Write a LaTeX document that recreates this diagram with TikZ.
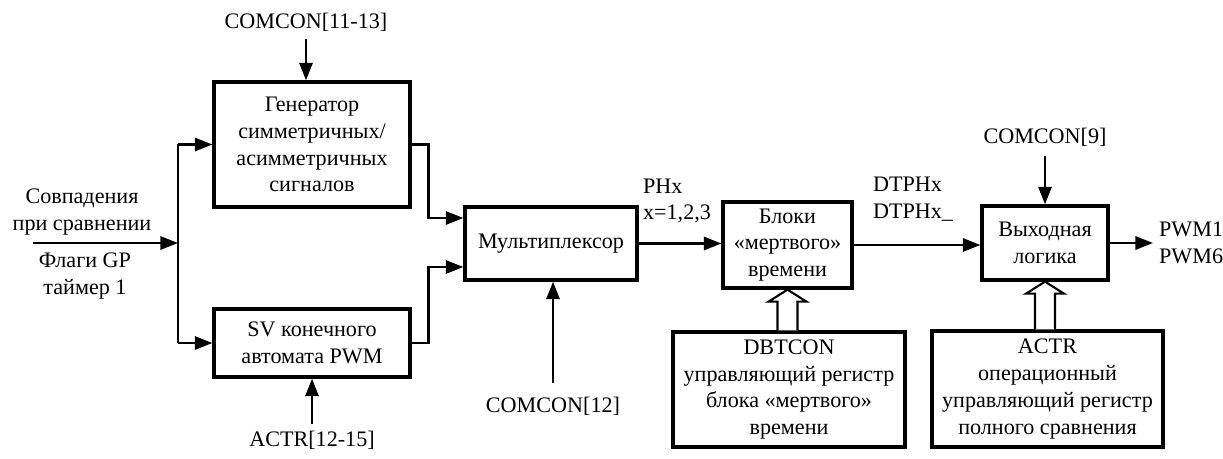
\documentclass[tikz,border=0pt]{standalone}
\usepackage{fontspec}
\setmainfont{Liberation Serif}
\usetikzlibrary{calc,positioning,arrows.meta}

\tikzset{
  blk/.style={draw, line width=1.9pt, align=center, inner sep=2pt},
  lbl/.style={align=center, inner sep=1pt},
  sig/.style={line width=1.5pt, -{Triangle[length=10pt,width=7.5pt]}},
  wire/.style={line width=1.5pt},
  hollow/.style={line width=1.2pt, fill=white},
}

\begin{document}
\begin{tikzpicture}[x=0.02cm, y=-0.02cm, font=\fontsize{12.6}{15.3}\selectfont]
\useasboundingbox (0,0) rectangle (1223,459);

% blocks
\node[blk, minimum width=3.92cm, minimum height=2.5cm] (gen) at (312,144.5) {Генератор\\симметричных/\\асимметричных\\сигналов};
\node[blk, minimum width=3.92cm, minimum height=1.36cm] (sv) at (312,343) {SV конечного\\автомата PWM};
\node[blk, minimum width=3.44cm, minimum height=1.46cm] (mux) at (551,243.5) {Мультиплексор};
\node[blk, minimum width=2.58cm, minimum height=1.72cm] (dead) at (787.5,245) {Блоки\\«мертвого»\\времени};
\node[blk, minimum width=4.64cm, minimum height=2.3cm] (dbt) at (789,389.5) {DBTCON\\управляющий регистр\\блока «мертвого»\\времени};
\node[blk, minimum width=2.52cm, minimum height=1.48cm] (logic) at (1045,243) {Выходная\\логика};
\node[blk, minimum width=4.62cm, minimum height=2.32cm] (actr) at (1047.5,389) {ACTR\\операционный\\управляющий регистр\\полного сравнения};

% labels
\node[lbl] (cmp) at (82,212) {Совпадения\\при сравнении};
\node[lbl] (flags) at (85,276) {Флаги GP\\таймер 1};
\node[lbl] (cc1) at (306,22) {COMCON[11-13]};
\node[lbl] (act1) at (312,440) {ACTR[12-15]};
\node[lbl] (cc12) at (553,406) {COMCON[12]};
\node[lbl] (cc9) at (1045,137) {COMCON[9]};
\node[lbl, align=left, anchor=west] (phx) at (641,201) {PHx\\x=1,2,3};
\node[lbl, align=left, anchor=west] (dtphx) at (871,199) {DTPHx\\DTPHx\_};
\node[lbl, align=left, anchor=west] (pwm) at (1157,243) {PWM1\\PWM6};

\coordinate (src) at (33,243);
\coordinate (split) at (178,243);
\coordinate (out) at (1153,243);

% connectors
\draw[sig] (src) -- (split);
\draw[wire] (split |- gen.west) -- (split |- sv.west);
\draw[sig] (split |- gen.west) -- (gen.west);
\draw[sig] (split |- sv.west) -- (sv.west);
\draw[sig] (gen.east) -- ++(17,0) |- ($(mux.west)+(0,-25.5)$);
\draw[sig] (sv.east) -- ++(17,0) |- ($(mux.west)+(0,23.5)$);
\draw[sig] ($(cc1.south)+(0,6)$) -- (cc1.south |- gen.north);
\draw[sig] ($(act1.north)+(0,-5)$) -- (act1.north |- sv.south);
\draw[sig] ($(cc12.north)+(0,-12)$) -- (cc12.north |- mux.south);
\draw[sig] (mux.east) -- (mux.east -| dead.west);
\draw[sig] (dead.east) -- (dead.east -| logic.west);
\draw[sig] ($(cc9.south)+(0,8)$) -- (cc9.south |- logic.north);
\draw[sig] (logic.east) -- (out);

% hollow arrows
\draw[hollow] ($(dead.south |- dbt.north)+(-10,0)$) -- ($(dead.south)+(-10,12)$) -- ($(dead.south)+(-19,12)$) -- (dead.south)
  -- ($(dead.south)+(19,12)$) -- ($(dead.south)+(10,12)$) -- ($(dead.south |- dbt.north)+(10,0)$);
\draw[hollow] ($(logic.south |- actr.north)+(-10,0)$) -- ($(logic.south)+(-10,12)$) -- ($(logic.south)+(-19,12)$) -- (logic.south)
  -- ($(logic.south)+(19,12)$) -- ($(logic.south)+(10,12)$) -- ($(logic.south |- actr.north)+(10,0)$);
\end{tikzpicture}
\end{document}
